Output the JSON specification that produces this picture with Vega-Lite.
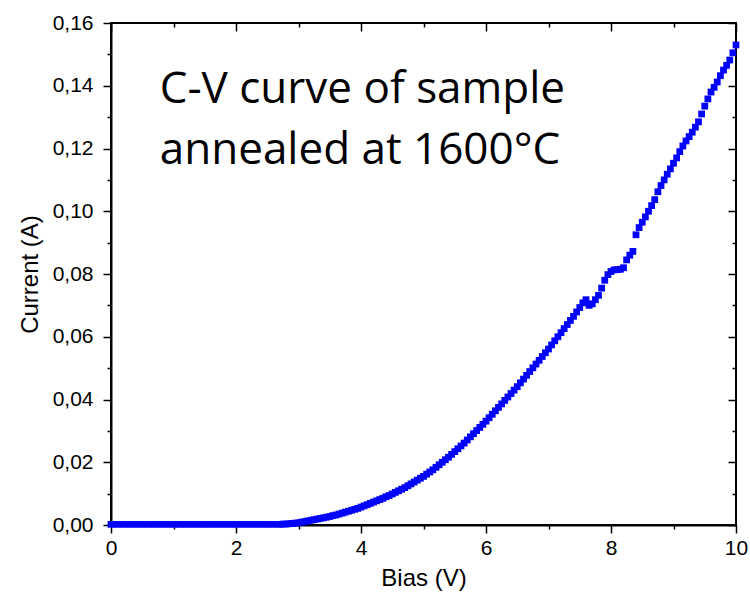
{
  "$schema": "https://vega.github.io/schema/vega-lite/v6.json",
  "width": 625,
  "height": 502,
  "autosize": {"type": "none"},
  "padding": {"left": 111, "top": 23, "right": 14, "bottom": 73},
  "background": "white",
  "config": {
    "view": {"stroke": "black", "strokeWidth": 2},
    "axis": {
      "grid": false,
      "labelFont": "Liberation Sans",
      "labelFontSize": 21,
      "labelColor": "black",
      "titleFont": "Liberation Sans",
      "titleFontSize": 24,
      "titleFontWeight": "normal",
      "titleColor": "black",
      "domainColor": "black",
      "domainWidth": 2,
      "tickColor": "black",
      "tickWidth": 1.5
    }
  },
  "layer": [
    {
      "data": {
        "values": [
          {"bias": 0, "current": 0.0002}, {"bias": 0.1, "current": 0.0002}, {"bias": 0.2, "current": 0.0002}, {"bias": 0.3, "current": 0.0002}, {"bias": 0.4, "current": 0.0002},
          {"bias": 0.5, "current": 0.0002}, {"bias": 0.6, "current": 0.0002}, {"bias": 0.7, "current": 0.0002}, {"bias": 0.8, "current": 0.0002}, {"bias": 0.9, "current": 0.0002},
          {"bias": 1.0, "current": 0.0002}, {"bias": 1.1, "current": 0.0002}, {"bias": 1.2, "current": 0.0002}, {"bias": 1.3, "current": 0.0002}, {"bias": 1.4, "current": 0.0002},
          {"bias": 1.5, "current": 0.0002}, {"bias": 1.6, "current": 0.0002}, {"bias": 1.7, "current": 0.0002}, {"bias": 1.8, "current": 0.0002}, {"bias": 1.9, "current": 0.0002},
          {"bias": 2.0, "current": 0.0002}, {"bias": 2.1, "current": 0.0002}, {"bias": 2.2, "current": 0.0002}, {"bias": 2.3, "current": 0.0002}, {"bias": 2.4, "current": 0.0002},
          {"bias": 2.5, "current": 0.0002}, {"bias": 2.6, "current": 0.0002}, {"bias": 2.7, "current": 0.0002},
          {"bias": 2.75, "current": 0.0003}, {"bias": 2.8, "current": 0.0003}, {"bias": 2.85, "current": 0.0004}, {"bias": 2.9, "current": 0.0005}, {"bias": 2.95, "current": 0.0006},
          {"bias": 3.0, "current": 0.0007}, {"bias": 3.05, "current": 0.0009}, {"bias": 3.1, "current": 0.0011}, {"bias": 3.15, "current": 0.0013}, {"bias": 3.2, "current": 0.0015},
          {"bias": 3.25, "current": 0.0017}, {"bias": 3.3, "current": 0.0019}, {"bias": 3.35, "current": 0.0021}, {"bias": 3.4, "current": 0.0023}, {"bias": 3.45, "current": 0.0025},
          {"bias": 3.5, "current": 0.0027}, {"bias": 3.55, "current": 0.0030}, {"bias": 3.6, "current": 0.0032}, {"bias": 3.65, "current": 0.0035}, {"bias": 3.7, "current": 0.0038},
          {"bias": 3.75, "current": 0.0041}, {"bias": 3.8, "current": 0.0044}, {"bias": 3.85, "current": 0.0047}, {"bias": 3.9, "current": 0.0050}, {"bias": 3.95, "current": 0.0053},
          {"bias": 4.0, "current": 0.0057}, {"bias": 4.05, "current": 0.0061}, {"bias": 4.1, "current": 0.0065}, {"bias": 4.15, "current": 0.0069}, {"bias": 4.2, "current": 0.0073},
          {"bias": 4.25, "current": 0.0077}, {"bias": 4.3, "current": 0.0081}, {"bias": 4.35, "current": 0.0085}, {"bias": 4.4, "current": 0.0090}, {"bias": 4.45, "current": 0.0094},
          {"bias": 4.5, "current": 0.0099}, {"bias": 4.55, "current": 0.0104}, {"bias": 4.6, "current": 0.0109}, {"bias": 4.65, "current": 0.0114}, {"bias": 4.7, "current": 0.0119},
          {"bias": 4.75, "current": 0.0125}, {"bias": 4.8, "current": 0.0131}, {"bias": 4.85, "current": 0.0137}, {"bias": 4.9, "current": 0.0143}, {"bias": 4.95, "current": 0.0149},
          {"bias": 5.0, "current": 0.0155}, {"bias": 5.05, "current": 0.0162}, {"bias": 5.1, "current": 0.0169}, {"bias": 5.15, "current": 0.0176}, {"bias": 5.2, "current": 0.0184},
          {"bias": 5.25, "current": 0.0192}, {"bias": 5.3, "current": 0.0200}, {"bias": 5.35, "current": 0.0208}, {"bias": 5.4, "current": 0.0216}, {"bias": 5.45, "current": 0.0225},
          {"bias": 5.5, "current": 0.0234}, {"bias": 5.55, "current": 0.0243}, {"bias": 5.6, "current": 0.0252}, {"bias": 5.65, "current": 0.0261}, {"bias": 5.7, "current": 0.0271},
          {"bias": 5.75, "current": 0.0281}, {"bias": 5.8, "current": 0.0291}, {"bias": 5.85, "current": 0.0301}, {"bias": 5.9, "current": 0.0311}, {"bias": 5.95, "current": 0.0321},
          {"bias": 6.0, "current": 0.0331}, {"bias": 6.05, "current": 0.0342}, {"bias": 6.1, "current": 0.0353}, {"bias": 6.15, "current": 0.0364}, {"bias": 6.2, "current": 0.0375},
          {"bias": 6.25, "current": 0.0386}, {"bias": 6.3, "current": 0.0397}, {"bias": 6.35, "current": 0.0408}, {"bias": 6.4, "current": 0.0419}, {"bias": 6.45, "current": 0.0430},
          {"bias": 6.5, "current": 0.0441}, {"bias": 6.55, "current": 0.0453}, {"bias": 6.6, "current": 0.0465}, {"bias": 6.65, "current": 0.0477}, {"bias": 6.7, "current": 0.0489},
          {"bias": 6.75, "current": 0.0501}, {"bias": 6.8, "current": 0.0513}, {"bias": 6.85, "current": 0.0525}, {"bias": 6.9, "current": 0.0537}, {"bias": 6.95, "current": 0.0549},
          {"bias": 7.0, "current": 0.0561}, {"bias": 7.05, "current": 0.0574}, {"bias": 7.1, "current": 0.0587}, {"bias": 7.15, "current": 0.0600}, {"bias": 7.2, "current": 0.0613},
          {"bias": 7.25, "current": 0.0626}, {"bias": 7.3, "current": 0.0639}, {"bias": 7.35, "current": 0.0652}, {"bias": 7.4, "current": 0.0665}, {"bias": 7.45, "current": 0.0679},
          {"bias": 7.5, "current": 0.0693}, {"bias": 7.55, "current": 0.0708}, {"bias": 7.6, "current": 0.0718}, {"bias": 7.65, "current": 0.0700}, {"bias": 7.7, "current": 0.0705},
          {"bias": 7.75, "current": 0.0718}, {"bias": 7.8, "current": 0.0732}, {"bias": 7.85, "current": 0.0755}, {"bias": 7.9, "current": 0.0780}, {"bias": 7.95, "current": 0.0798},
          {"bias": 8.0, "current": 0.0808}, {"bias": 8.05, "current": 0.0813}, {"bias": 8.1, "current": 0.0814}, {"bias": 8.15, "current": 0.0815}, {"bias": 8.2, "current": 0.0820},
          {"bias": 8.25, "current": 0.0845}, {"bias": 8.3, "current": 0.0860}, {"bias": 8.35, "current": 0.0872}, {"bias": 8.4, "current": 0.0925}, {"bias": 8.45, "current": 0.0948},
          {"bias": 8.5, "current": 0.0965}, {"bias": 8.55, "current": 0.0982}, {"bias": 8.6, "current": 0.1000}, {"bias": 8.65, "current": 0.1018}, {"bias": 8.7, "current": 0.1037},
          {"bias": 8.75, "current": 0.1062}, {"bias": 8.8, "current": 0.1082}, {"bias": 8.85, "current": 0.1100}, {"bias": 8.9, "current": 0.1118}, {"bias": 8.95, "current": 0.1135},
          {"bias": 9.0, "current": 0.1153}, {"bias": 9.05, "current": 0.1170}, {"bias": 9.1, "current": 0.1190}, {"bias": 9.15, "current": 0.1208}, {"bias": 9.2, "current": 0.1224},
          {"bias": 9.25, "current": 0.1238}, {"bias": 9.3, "current": 0.1252}, {"bias": 9.35, "current": 0.1268}, {"bias": 9.4, "current": 0.1285}, {"bias": 9.45, "current": 0.1310},
          {"bias": 9.5, "current": 0.1335}, {"bias": 9.55, "current": 0.1358}, {"bias": 9.6, "current": 0.1380}, {"bias": 9.65, "current": 0.1395}, {"bias": 9.7, "current": 0.1412},
          {"bias": 9.75, "current": 0.1432}, {"bias": 9.8, "current": 0.1450}, {"bias": 9.85, "current": 0.1465}, {"bias": 9.9, "current": 0.1482}, {"bias": 9.95, "current": 0.1505},
          {"bias": 10.0, "current": 0.1530}
        ]
      },
      "mark": {"type": "square", "size": 46, "color": "#0000ff", "opacity": 1, "filled": true, "clip": false},
      "encoding": {
        "x": {
          "field": "bias", "type": "quantitative",
          "scale": {"domain": [0, 10], "nice": false, "zero": false},
          "axis": {
            "orient": "bottom", "title": "Bias (V)", "titlePadding": 8,
            "values": [0, 1, 2, 3, 4, 5, 6, 7, 8, 9, 10],
            "labelExpr": "datum.value % 2 === 0 ? datum.label : ''",
            "tickSize": {"condition": {"test": "datum.value % 2 === 0", "value": 8}, "value": 4},
            "labelPadding": 4,
            "labelFlush": false
          }
        },
        "y": {
          "field": "current", "type": "quantitative",
          "scale": {"domain": [0, 0.16], "nice": false, "zero": false},
          "axis": {
            "orient": "left", "title": "Current (A)", "titlePadding": 10,
            "values": [0, 0.01, 0.02, 0.03, 0.04, 0.05, 0.06, 0.07, 0.08, 0.09, 0.1, 0.11, 0.12, 0.13, 0.14, 0.15, 0.16],
            "labelExpr": "round(datum.value * 100) % 2 === 0 ? replace(format(datum.value, '.2f'), '.', ',') : ''",
            "tickSize": {"condition": {"test": "round(datum.value * 100) % 2 === 0", "value": 8}, "value": 4},
            "labelPadding": 10,
            "labelFlush": false
          }
        }
      }
    },
    {
      "data": {"values": [{"note": "C-V curve of sample\nannealed at 1600°C"}]},
      "mark": {"type": "text", "lineBreak": "\n", "lineHeight": 61, "font": "Open Sans", "fontSize": 44, "align": "left", "baseline": "alphabetic", "color": "black"},
      "encoding": {
        "text": {"field": "note", "type": "nominal"},
        "x": {
          "datum": 0.78, "type": "quantitative",
          "axis": {
            "orient": "top", "title": null, "labels": false, "domain": false,
            "values": [0, 1, 2, 3, 4, 5, 6, 7, 8, 9, 10],
            "tickSize": {"condition": {"test": "datum.value % 2 === 0", "value": -8}, "value": -4}
          }
        },
        "y": {
          "datum": 0.1345, "type": "quantitative",
          "axis": {
            "orient": "right", "title": null, "labels": false, "domain": false,
            "values": [0, 0.01, 0.02, 0.03, 0.04, 0.05, 0.06, 0.07, 0.08, 0.09, 0.1, 0.11, 0.12, 0.13, 0.14, 0.15, 0.16],
            "tickSize": {"condition": {"test": "round(datum.value * 100) % 2 === 0", "value": -8}, "value": -4}
          }
        }
      }
    }
  ],
  "resolve": {"axis": {"x": "independent", "y": "independent"}}
}
